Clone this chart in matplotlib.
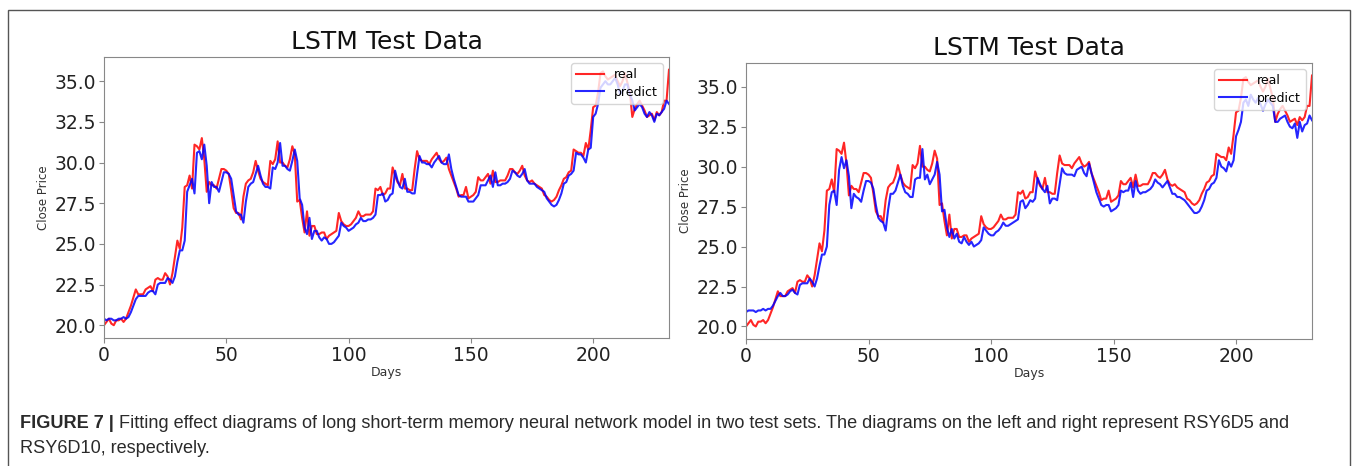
import matplotlib
matplotlib.use("Agg")
import matplotlib.pyplot as plt
from matplotlib.patches import Rectangle

# closing prices, one value per day
real = [20.0, 20.2, 20.4, 20.1, 20.0, 20.3, 20.3, 20.4, 20.2, 20.4,
        20.8, 21.2, 21.7, 22.2, 21.9, 21.9, 21.9, 22.2, 22.3, 22.4,
        22.1, 22.8, 22.9, 22.8, 22.8, 23.2, 23.0, 22.5, 23.2, 24.2,
        25.2, 24.7, 26.0, 28.5, 28.6, 29.2, 28.4, 31.1, 31.0, 30.8,
        31.5, 30.2, 28.2, 28.8, 28.6, 28.6, 28.4, 29.0, 29.6, 29.6,
        29.5, 29.3, 28.3, 27.2, 26.9, 26.9, 26.5, 27.9, 28.7, 28.9,
        29.0, 29.4, 30.1, 29.5, 29.0, 28.8, 28.7, 28.6, 30.1, 29.9,
        30.2, 31.3, 30.0, 30.0, 29.8, 29.7, 30.2, 31.0, 30.5, 27.6,
        27.7, 26.6, 25.7, 27.0, 25.5, 26.1, 26.1, 25.6, 25.6, 25.7,
        25.7, 25.3, 25.5, 25.6, 25.7, 25.8, 26.9, 26.4, 26.2, 26.1,
        26.1, 26.2, 26.4, 26.6, 27.0, 26.7, 26.7, 26.8, 26.8, 26.8,
        27.0, 28.4, 28.3, 28.5, 28.0, 28.1, 28.4, 28.4, 29.7, 29.2,
        28.8, 28.6, 29.3, 28.4, 28.4, 28.3, 28.3, 29.6, 30.7, 30.2,
        30.1, 30.1, 30.1, 29.9, 30.2, 30.4, 30.6, 30.2, 30.0, 30.1,
        30.3, 29.6, 29.2, 28.8, 28.4, 27.9, 28.0, 28.0, 28.5, 27.8,
        27.9, 28.0, 28.2, 29.1, 28.9, 28.9, 29.1, 29.3, 28.7, 29.5,
        28.8, 28.8, 28.9, 28.9, 28.9, 29.2, 29.6, 29.6, 29.4, 29.3,
        29.5, 29.8, 29.2, 28.9, 28.8, 28.9, 28.7, 28.6, 28.5, 28.4,
        28.0, 27.9, 27.7, 27.6, 27.7, 27.9, 28.3, 28.6, 29.0, 29.1,
        29.4, 29.5, 30.8, 30.7, 30.6, 30.6, 30.4, 31.2, 30.8, 32.0,
        33.4, 33.5, 34.3, 35.5, 35.6, 35.3, 35.1, 35.2, 35.3, 35.4,
        35.0, 34.7, 35.0, 35.5, 34.9, 34.3, 32.8, 33.3, 33.6, 33.8,
        33.5, 33.2, 32.8, 32.9, 33.0, 32.6, 33.1, 32.9, 33.1, 33.8,
        33.8, 35.7]

pred_d5 = [20.4, 20.3, 20.4, 20.4, 20.3, 20.3, 20.4, 20.4, 20.5, 20.4,
           20.5, 20.8, 21.2, 21.6, 21.8, 21.8, 21.8, 21.8, 22.0, 22.1,
           22.1, 21.9, 22.5, 22.6, 22.6, 22.6, 22.9, 22.8, 22.6, 23.0,
           23.9, 24.6, 24.6, 25.2, 28.2, 28.6, 29.0, 28.1, 30.6, 30.7,
           30.2, 31.1, 29.8, 27.5, 28.8, 28.5, 28.5, 28.2, 28.8, 29.4,
           29.4, 29.3, 29.0, 28.0, 27.0, 26.8, 26.8, 26.3, 27.6, 28.5,
           28.7, 28.8, 29.3, 29.8, 29.2, 28.7, 28.5, 28.5, 28.4, 29.7,
           29.6, 30.0, 31.2, 29.8, 29.8, 29.6, 29.5, 30.1, 30.8, 30.1,
           27.8, 27.4, 26.0, 25.6, 26.6, 25.3, 25.8, 25.8, 25.4, 25.2,
           25.4, 25.3, 25.0, 25.0, 25.1, 25.3, 25.5, 26.3, 26.1, 26.0,
           25.8, 25.9, 26.0, 26.2, 26.3, 26.6, 26.4, 26.4, 26.5, 26.5,
           26.6, 26.8, 28.0, 28.0, 28.1, 27.6, 27.7, 28.0, 28.1, 29.5,
           28.9, 28.5, 28.4, 29.0, 28.2, 28.2, 28.1, 28.1, 29.3, 30.4,
           30.0, 30.0, 29.9, 29.9, 29.7, 30.0, 30.2, 30.4, 30.0, 29.9,
           29.9, 30.5, 29.6, 29.0, 28.5, 28.0, 27.9, 27.9, 27.9, 27.6,
           27.6, 27.6, 27.8, 28.0, 28.6, 28.6, 28.6, 28.9, 29.2, 28.5,
           29.4, 28.6, 28.6, 28.7, 28.7, 28.8, 29.0, 29.5, 29.4, 29.2,
           29.1, 29.3, 29.6, 28.9, 28.7, 28.7, 28.7, 28.5, 28.4, 28.3,
           28.2, 27.8, 27.6, 27.4, 27.3, 27.4, 27.7, 28.1, 28.7, 28.8,
           29.2, 29.3, 29.5, 30.6, 30.5, 30.5, 30.3, 30.0, 30.8, 30.9,
           32.8, 33.0, 33.6, 34.6, 34.8, 35.0, 34.8, 34.8, 35.0, 35.2,
           34.8, 34.2, 34.4, 34.8, 34.8, 34.2, 33.8, 33.2, 33.4, 33.6,
           33.4, 33.0, 32.8, 33.1, 32.9, 32.5, 33.0, 32.9, 33.1, 33.3,
           33.8, 33.6]

pred_d10 = [20.9, 21.0, 21.0, 21.0, 20.9, 21.0, 21.0, 21.1, 21.0, 21.1,
            21.1, 21.3, 21.6, 21.9, 22.1, 21.9, 21.9, 22.0, 22.2, 22.3,
            22.1, 22.0, 22.6, 22.7, 22.7, 22.7, 23.0, 22.8, 22.5, 23.0,
            23.8, 24.5, 24.5, 25.0, 27.6, 28.4, 28.5, 27.6, 29.8, 30.6,
            29.9, 30.4, 29.4, 27.4, 28.3, 28.1, 28.0, 27.8, 28.5, 29.1,
            29.1, 29.0, 28.6, 27.6, 26.8, 26.6, 26.5, 26.0, 27.3, 28.3,
            28.3, 28.5, 29.0, 29.5, 28.8, 28.4, 28.3, 28.1, 28.1, 29.2,
            29.3, 29.3, 31.1, 29.2, 29.5, 28.9, 29.2, 29.5, 30.3, 29.5,
            27.2, 27.3, 26.2, 25.6, 26.1, 25.5, 25.8, 25.3, 25.2, 25.6,
            25.3, 25.1, 25.3, 25.0, 25.1, 25.2, 25.4, 26.2, 26.0, 25.8,
            25.7, 25.7, 25.9, 26.0, 26.2, 26.5, 26.3, 26.3, 26.4, 26.5,
            26.6, 26.7, 27.8, 27.9, 27.4, 27.6, 27.9, 27.8, 28.0, 29.3,
            28.9, 28.6, 28.4, 28.8, 27.7, 28.0, 28.0, 27.9, 28.9, 29.9,
            29.6, 29.5, 29.5, 29.5, 29.4, 29.8, 29.9, 30.0, 29.6, 29.4,
            30.2, 29.6, 29.0, 28.4, 28.0, 27.6, 27.5, 27.6, 27.6, 27.2,
            27.3, 27.4, 27.6, 28.5, 28.4, 28.5, 28.5, 29.0, 28.1, 29.1,
            28.5, 28.3, 28.4, 28.4, 28.5, 28.6, 28.8, 29.2, 29.0, 28.9,
            28.7, 28.9, 29.1, 28.7, 28.3, 28.3, 28.1, 28.1, 28.0, 27.9,
            27.7, 27.5, 27.3, 27.1, 27.1, 27.2, 27.5, 27.9, 28.5, 28.6,
            28.9, 29.0, 29.3, 30.4, 30.0, 29.9, 29.7, 30.3, 30.0, 30.4,
            31.9, 32.3, 32.8, 34.0, 34.2, 33.8, 34.5, 34.2, 34.0, 34.3,
            33.9, 33.5, 33.9, 34.2, 34.0, 33.8, 32.8, 32.8, 33.0, 33.1,
            33.2, 32.8, 32.5, 32.4, 32.7, 31.8, 32.8, 32.2, 32.6, 32.7,
            33.2, 32.9]

days = list(range(len(real)))
xticks = [0, 50, 100, 150, 200]
caption_bold = "FIGURE 7 |"
caption_1 = ("Fitting effect diagrams of long short-term memory neural network model in two "
             "test sets. The diagrams on the left and right represent RSY6D5 and")
caption_2 = "RSY6D10, respectively."

fig = plt.figure(figsize=(13.58, 4.66), dpi=100)

# thin frame round the whole figure
fig.patches.append(Rectangle((8 / 1358, -0.05), 1342 / 1358, 1.05 - 10 / 466,
                             transform=fig.transFigure, fill=False,
                             edgecolor="#555555", lw=1.0))

ax1 = fig.add_axes([104 / 1358, 1 - 338 / 466, 565 / 1358, 281 / 466])
ax2 = fig.add_axes([746 / 1358, 1 - 339 / 466, 566 / 1358, 276 / 466])

for ax, pred in [(ax1, pred_d5), (ax2, pred_d10)]:
    ax.plot(days, real, color="red", lw=1.5, alpha=0.85, label="real")
    ax.plot(days, pred, color="blue", lw=1.5, alpha=0.85, label="predict")
    ax.set_xlim(0, len(real) - 1)
    ax.set_xticks(xticks)
    ax.set_title("LSTM Test Data", fontsize=18, color="#111111")
    ax.set_xlabel("Days", fontsize=9, color="#333333", labelpad=0.5)
    ax.set_ylabel("Close Price", fontsize=8.5, color="#333333", labelpad=3)
    ax.tick_params(labelsize=13.5, colors="#222222", length=3.5, pad=2.5)
    ax.tick_params(color="#888888")
    for s in ax.spines.values():
        s.set_edgecolor("#888888")
    ax.legend(loc="upper right", fontsize=9, handlelength=2.2,
              borderpad=0.4, labelspacing=0.35)

# caption, bold figure number followed by the plain text
cap = dict(fontsize=13.1, color="#2a2a2a", family="Liberation Sans", va="baseline")
t = fig.text(20 / 1358, 1 - 428 / 466, caption_bold, fontweight="bold", **cap)
fig.canvas.draw()
bb = t.get_window_extent(fig.canvas.get_renderer())
fig.text(bb.x1 / 1358 + 5 / 1358, 1 - 428 / 466, caption_1, **cap)
fig.text(20 / 1358, 1 - 453 / 466, caption_2, **cap)

fig.savefig("out.png", dpi=100)
